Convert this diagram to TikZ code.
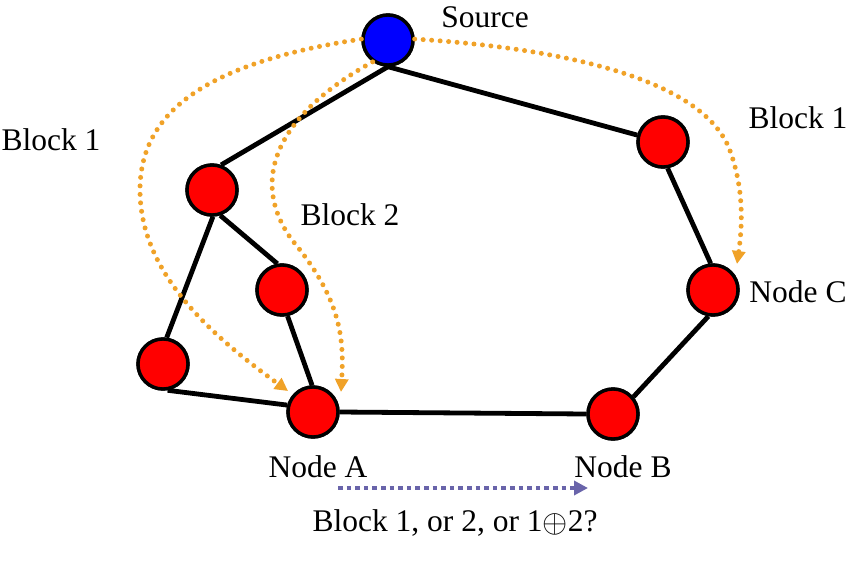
\documentclass[tikz,border=0pt]{standalone}
\usepackage{fontspec}
\setmainfont{Liberation Serif}
\usetikzlibrary{arrows.meta}
\definecolor{dotorange}{RGB}{240,162,40}
\definecolor{dotpurple}{RGB}{105,100,170}
\tikzset{
  vertex/.style={circle,draw=black,line width=3.4pt,fill=red,minimum size=50pt,inner sep=0pt},
  srcvertex/.style={vertex,fill=blue},
  edge/.style={line width=4.8pt,black},
  blockpath/.style={dotorange,line width=5pt,line cap=round,dash pattern=on 0pt off 8.5pt,
    -{Triangle[length=13pt,width=13pt,line cap=butt]}},
  lbl/.style={anchor=base,inner sep=0pt,font=\fontsize{31.5}{36}\selectfont}
}
\begin{document}
\begin{tikzpicture}[x=1pt,y=-1pt]
\useasboundingbox (0,0) rectangle (849,563);
% vertices
\node[srcvertex] (src) at (388,40) {};
\node[vertex] (n1) at (212,190) {};
\node[vertex] (n2) at (282,290) {};
\node[vertex] (n3) at (163,364) {};
\node[vertex] (na) at (313,412) {};
\node[vertex] (nb) at (613,414) {};
\node[vertex] (nc) at (713,290) {};
\node[vertex] (nd) at (663,142) {};
% edges
\draw[edge] (src.-90) -- (n1.70);
\draw[edge] (src.-90) -- (nd.165);
\draw[edge] (n1.-88) -- (n3.82);
\draw[edge] (n1.-72) -- (n2.100);
\draw[edge] (n2.-78) -- (na.92);
\draw[edge] (n3.-80) -- (na.165);
\draw[edge] (na.0) -- (nb.180);
\draw[edge] (nb.40) -- (nc.-100);
\draw[edge] (nc.95) -- (nd.-80);
% redraw vertices on top
\node[srcvertex] at (src) {};
\foreach \v in {n1,n2,n3,na,nb,nc,nd} \node[vertex] at (\v) {};
% dotted block paths
\coordinate (t1) at (288,391);
\coordinate (t2) at (341,392);
\coordinate (t3) at (737,264);
\draw[blockpath] (src.178) .. controls (210,62) and (140,110) .. (140,190)
  .. controls (140,275) and (215,338) .. (t1);
\draw[blockpath] (src.-125) .. controls (285,110) and (245,175) .. (292,240)
  .. controls (342,300) and (344,340) .. (t2);
\draw[blockpath] (src.2) .. controls (560,48) and (700,78) .. (729,148)
  .. controls (745,190) and (742,228) .. (t3);
% bottom arrow
\coordinate (ba) at (338,488);
\coordinate (bb) at (588,488);
\draw[dotpurple,line width=4.6pt,dash pattern=on 4.6pt off 4pt,
  -{Triangle[length=14pt,width=14pt]}] (ba) -- (bb);
% labels
\node[lbl] (lsrc) at (485,27) {Source};
\node[lbl] (lb1l) at (51,150) {Block 1};
\node[lbl] (lb2) at (350,225) {Block 2};
\node[lbl] (lb1r) at (798,128) {Block 1};
\node[lbl] (lnc) at (798,302) {Node C};
\node[lbl] (lna) at (318,477) {Node A};
\node[lbl] (lnb) at (623,477) {Node B};
\node[lbl] (lq) at (455,531) {Block 1, or 2, or 1\raisebox{-1pt}{\scalebox{1.3}{$\oplus$}}2?};
\end{tikzpicture}
\end{document}
